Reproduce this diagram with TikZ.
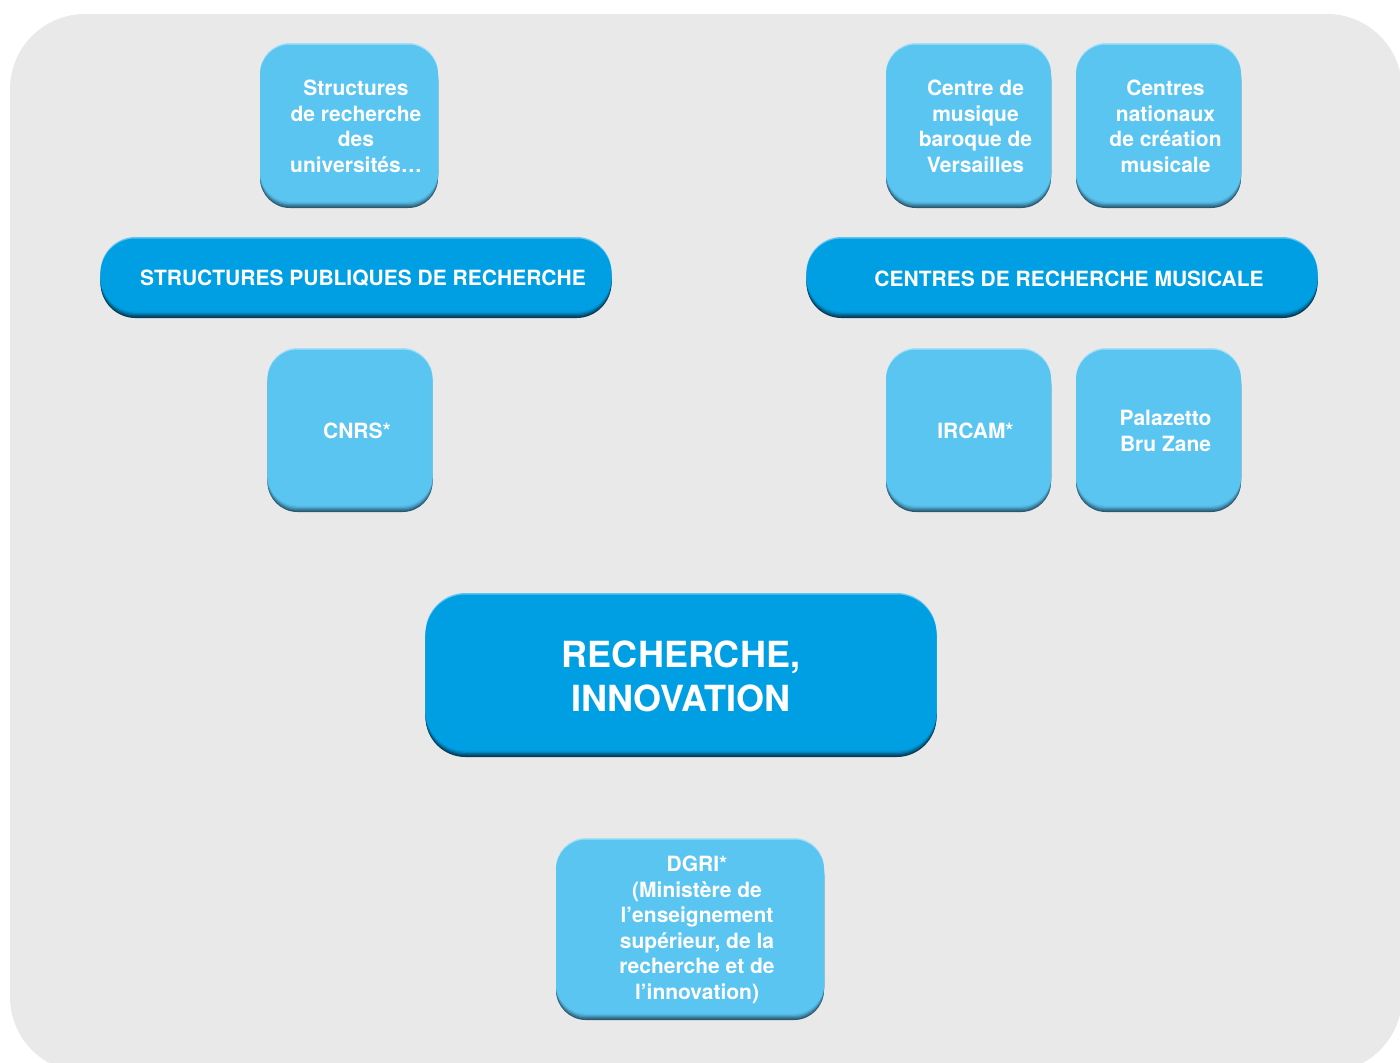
\documentclass[tikz,border=0pt]{standalone}
\usepackage{fontspec}
\setmainfont{TeX Gyre Heros}
\usepackage{tikz}
\usetikzlibrary{positioning}

\definecolor{fond}{HTML}{E9E9E9}
\definecolor{bleuclair}{HTML}{5BC5F2}
\definecolor{bleufonce}{HTML}{009FE3}
\definecolor{ombreclair}{HTML}{2A5A72}
\definecolor{ombrefonce}{HTML}{063A55}
\definecolor{refletclair}{HTML}{A3E0F8}
\definecolor{refletfonce}{HTML}{5CC4F0}

\begin{document}
\begin{tikzpicture}[x=0.5pt,y=-0.5pt,on grid,
    texte/.style={align=center, text=white, inner sep=0pt,
      font=\bfseries\fontsize{10.5}{12.75}\selectfont},
    % #1 couleur, #2 ombre, #3 reflet, #4 decalage du fond
    relief/.style n args={4}{
      preaction={fill=#2, transform canvas={xshift=-#4, yshift=-1.5pt}},
      preaction={fill=#2!75!#1, transform canvas={xshift=-#4, yshift=-0.85pt}},
      preaction={fill=#2!50!#1, transform canvas={xshift=-#4, yshift=-0.2pt}},
      preaction={fill=#2!28!#1, transform canvas={xshift=-#4, yshift=0.45pt}},
      preaction={fill=#2!10!#1, transform canvas={xshift=-#4, yshift=1.1pt}},
      preaction={fill=#3, transform canvas={xshift=-#4, yshift=2.5pt}},
      preaction={fill=#1, transform canvas={xshift=-#4, yshift=1.75pt}}},
    pave/.style={texte, rounded corners=15pt,
      minimum width=82.5pt, minimum height=78.5pt,
      relief={bleuclair}{ombreclair}{refletclair}{#1}},
    pave/.default=3.5pt,
    barre/.style={texte, rounded corners=17.5pt,
      minimum width=255.5pt, minimum height=36.5pt,
      relief={bleufonce}{ombrefonce}{refletfonce}{#1}},
    barre/.default=3.5pt]

  \useasboundingbox (0,0) rectangle (1400,1062);
  \clip (0,0) rectangle (1400,1062);
  \fill[fond, rounded corners=37.5pt] (10,14) rectangle (1402,1072);

  % les deux barres et le pave central
  \node[barre] (spub) at (363,278.5) {STRUCTURES PUBLIQUES DE RECHERCHE};
  \node[barre] (crm) at (1069,278.5) {CENTRES DE RECHERCHE MUSICALE};
  \node[barre=0pt, rounded corners=20pt, minimum height=78pt,
        font=\bfseries\fontsize{18}{22}\selectfont] (rech) at (681,676) {RECHERCHE,\\INNOVATION};

  \node[pave, minimum width=89pt] (univ) [above left=76pt and 3.5pt of spub] {Structures\\de recherche\\des\\universités…};
  \node[pave, minimum height=78pt] (cnrs) [below left=76.25pt and 3pt of spub] {CNRS*};

  \node[pave] (cmbv) [above left=76pt and 46.75pt of crm] {Centre de\\musique\\baroque de\\Versailles};
  \node[pave] (cncm) [right=95pt of cmbv] {Centres\\nationaux\\de création\\musicale};
  \node[pave, minimum height=78pt] (ircam) [below left=76.25pt and 46.75pt of crm] {IRCAM*};
  \node[pave, minimum height=78pt] (pbz) [right=95pt of ircam] {Palazetto\\Bru Zane};

  \node[pave, minimum width=134pt, minimum height=87pt] (dgri) [below right=127pt and 8pt of rech]
    {DGRI*\\(Ministère de\\l’enseignement\\supérieur, de la\\recherche et de\\l’innovation)};
\end{tikzpicture}
\end{document}
